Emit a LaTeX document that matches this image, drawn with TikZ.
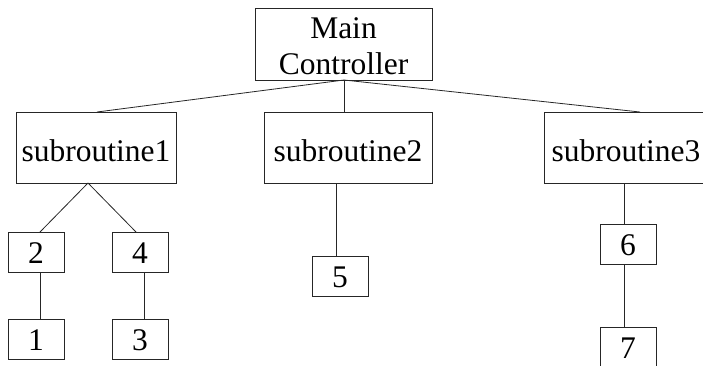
\documentclass[tikz,border=0pt]{standalone}
\usepackage{fontspec}
\setmainfont{Liberation Serif}
\begin{document}
\begin{tikzpicture}[x=1pt, y=-1pt,
  line width=0.8pt,
  box/.style={draw=black!85, rectangle, inner sep=0pt, outer sep=0pt,
    font=\fontsize{31.5pt}{36pt}\selectfont, text depth=0pt},
  bigbox/.style={box, text height=27pt},
  smallbox/.style={box, minimum width=56pt, minimum height=40pt, text height=22pt},
  link/.style={draw=black!85}]
  \useasboundingbox (0,0) rectangle (703,365);
  \clip (0,0) rectangle (703,365);

  % top level
  \node[box, minimum width=177pt, minimum height=72pt, align=center, text height=60pt]
    (main) at (343.5,44) {Main\\Controller};

  % second level
  \node[bigbox, minimum width=160pt, minimum height=71pt] (s1) at (96,147.5) {subroutine1};
  \node[bigbox, minimum width=168pt, minimum height=71pt] (s2) at (348,147.5) {subroutine2};
  \node[bigbox, minimum width=160pt, minimum height=71pt] (s3) at (624,147.5) {\hspace{4pt}subroutine3};

  % leaves
  \node[smallbox] (b2) at (36,252) {2};
  \node[smallbox] (b4) at (140,252) {4};
  \node[smallbox] (b1) at (36,339.5) {1};
  \node[smallbox] (b3) at (140,339.5) {3};
  \node[smallbox] (b5) at (340,276) {5};
  \node[smallbox] (b6) at (628,244) {6};
  \node[smallbox] (b7) at (628,347) {7};

  % connectors
  \draw[link] ([xshift=0.5pt]main.south) -- ([xshift=1pt]s1.north);
  \draw[link] ([xshift=0.5pt]main.south) -- ([xshift=-4pt]s2.north);
  \draw[link] ([xshift=0.5pt]main.south) -- ([xshift=16pt]s3.north);

  \draw[link] ([xshift=-8pt]s1.south) -- ([xshift=4pt]b2.north);
  \draw[link] ([xshift=-8pt]s1.south) -- ([xshift=-4pt]b4.north);
  \draw[link] ([xshift=4pt]b2.south) -- ([xshift=4pt]b1.north);
  \draw[link] ([xshift=4pt]b4.south) -- ([xshift=4pt]b3.north);

  \draw[link] ([xshift=-12pt]s2.south) -- ([xshift=-4pt]b5.north);

  \draw[link] (s3.south) -- ([xshift=-4pt]b6.north);
  \draw[link] ([xshift=-4pt]b6.south) -- ([xshift=-4pt]b7.north);
\end{tikzpicture}
\end{document}
